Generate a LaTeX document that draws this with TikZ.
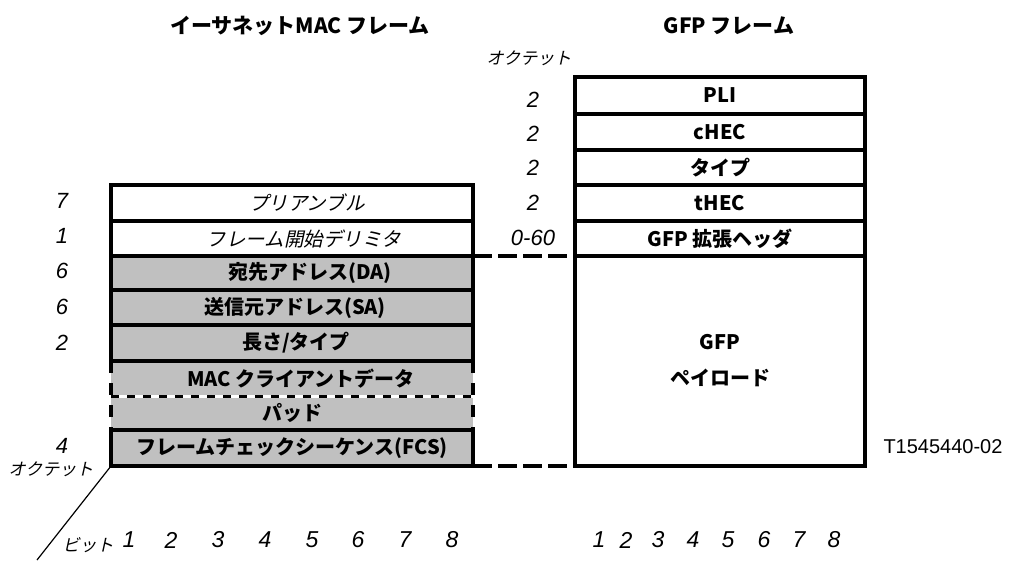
\documentclass[tikz,border=0pt]{standalone}
\usepackage{fontspec}
\setmainfont{Liberation Sans}
\newfontfamily\jp{Noto Sans CJK JP}
\newfontfamily\jpit{Noto Sans CJK JP}[FakeSlant=0.22]
\definecolor{rowgray}{RGB}{192,192,192}
\begin{document}
\begin{tikzpicture}[x=1pt,y=-1pt,
  frameline/.style={line width=4.5pt},
  conn/.style={line width=4.5pt, dash pattern=on 19pt off 6pt},
  vdash/.style={line width=4.5pt, dash pattern=on 12pt off 10pt},
  leftrow/.style={rectangle, inner sep=0pt, outer sep=0pt, minimum width=362pt},
  grayrow/.style={leftrow, fill=rowgray},
  whiterow/.style={leftrow, fill=white},
  gfprow/.style={rectangle, inner sep=0pt, outer sep=0pt, minimum width=290pt, fill=white},
  lbl/.style={font=\jp\bfseries\fontsize{20}{20}\selectfont},
  slbl/.style={font=\jpit\fontsize{19.5}{19.5}\selectfont},
  olbl/.style={font=\jpit\fontsize{17}{17}\selectfont},
  num/.style={font=\itshape\fontsize{22}{22}\selectfont},
  bitnum/.style={font=\itshape\fontsize{23}{23}\selectfont},
  ttl/.style={font=\jp\bfseries\fontsize{21}{21}\selectfont},
]
\path[use as bounding box, fill=white] (0,0) rectangle (1010,560);

% titles
\node[ttl] (t1) at (300,26) {イーサネットMAC フレーム};
\node[ttl] (t2) at (729,26) {GFP フレーム};

% Ethernet MAC frame rows
\node[whiterow, minimum height=36pt, slbl] (pre) at (292,203) {\hspace*{30pt}プリアンブル};
\node[whiterow, minimum height=35pt, slbl] (sfd) at (292,238.5) {\hspace*{24pt}フレーム開始デリミタ};
\node[grayrow, minimum height=34pt, lbl] (da) at (292,273) {\hspace*{36pt}宛先アドレス(DA)};
\node[grayrow, minimum height=35pt, lbl] (sa) at (292,307.5) {\hspace*{6pt}送信元アドレス(SA)};
\node[grayrow, minimum height=36pt, lbl] (lt) at (292,343) {\hspace*{8pt}長さ/タイプ};
\node[grayrow, minimum height=35pt, lbl] (mac) at (292,378.5) {\hspace*{18pt}MAC クライアントデータ};
\node[grayrow, minimum height=34pt, lbl] (pad) at (292,413) {パッド};
\node[grayrow, minimum height=36pt, lbl] (fcs) at (292,448) {フレームチェックシーケンス(FCS)};

% GFP frame rows
\node[gfprow, minimum height=37pt, lbl] (pli) at (720,95.5) {PLI};
\node[gfprow, minimum height=36pt, lbl] (chec) at (720,132) {cHEC};
\node[gfprow, minimum height=35pt, lbl] (typ) at (720,167.5) {タイプ};
\node[gfprow, minimum height=36pt, lbl] (thec) at (720,203) {tHEC};
\node[gfprow, minimum height=35pt, lbl] (ext) at (720,238.5) {GFP 拡張ヘッダ};
\node[gfprow, minimum height=210pt, lbl, align=center, font=\jp\bfseries\fontsize{20}{36}\selectfont] (pay) at (720,361) {GFP\\ペイロード};

% MAC client data / pad boundaries
\draw[white, line width=3pt] (mac.south west) -- (mac.south east);
\draw[line width=3pt, dash pattern=on 8pt off 8pt] (mac.south west) -- (mac.south east);
\draw[vdash] (mac.north west) -- (pad.south west);
\draw[vdash] (mac.north east) -- (pad.south east);

% solid row borders
\foreach \r in {pre,sfd,da,sa,lt,fcs,pli,chec,typ,thec,ext,pay}
  \draw[frameline] (\r.north west) rectangle (\r.south east);

% dashed connectors
\draw[conn] (sfd.south east) -- (ext.south west);
\draw[conn] (fcs.south east) -- (pay.south west);

% octet counts, left
\node[num] (n7) at (62,201) {7};
\node[num] (n1) at (62,236) {1};
\node[num] (n6a) at (62,271) {6};
\node[num] (n6b) at (62,307) {6};
\node[num] (n2) at (62,343) {2};
\node[num] (n4) at (62,446) {4};
\node[olbl] (octL) at (51,469) {オクテット};

% octet counts, middle
\node[olbl] (octM) at (529,58) {オクテット};
\node[num] (m1) at (533,100) {2};
\node[num] (m2) at (533,134) {2};
\node[num] (m3) at (533,168) {2};
\node[num] (m4) at (533,203) {2};
\node[num] (m5) at (533,238) {0-60};

% bit axis
\coordinate (dEnd) at (37,560);
\draw[line width=1.2pt] (fcs.south west) -- (dEnd);
\node[olbl] (bitL) at (88,545) {ビット};
\foreach \x [count=\i] in {129,171,218,265,312,358,405,452}
  \node[bitnum] (bl\i) at (\x,540) {\i};
\foreach \x [count=\i] in {599,626,658,693,728,764,799,834}
  \node[bitnum] (br\i) at (\x,540) {\i};

% figure id
\node[font=\fontsize{20}{20}\selectfont] (fid) at (943,447) {T1545440-02};
\end{tikzpicture}
\end{document}
